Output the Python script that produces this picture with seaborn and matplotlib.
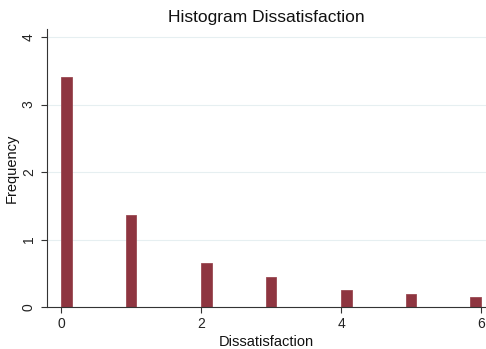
import numpy as np
import pandas as pd
import matplotlib
matplotlib.use("Agg")
import matplotlib.pyplot as plt
import seaborn as sns

values = [0, 1, 2, 3, 4, 5, 6]
density = [3.41, 1.37, 0.655, 0.445, 0.245, 0.200, 0.143]
x_ticks = [0, 2, 4, 6]
y_ticks = [0, 1, 2, 3, 4]
n_bins = 39

df = pd.DataFrame({"Dissatisfaction": values, "density": density})

sns.set_theme(style="white")
plt.rcParams["font.family"] = ["Liberation Sans", "DejaVu Sans"]

fig = plt.figure(figsize=(4.86, 3.49), dpi=100)
ax = fig.add_axes([0.0967, 0.1203, 0.9033, 0.7965])

sns.histplot(data=df, x="Dissatisfaction", weights="density", bins=n_bins,
             binrange=(0, 6), stat="count", color="#8e3540",
             edgecolor="#9a4a52", linewidth=0.6, alpha=1.0, ax=ax)

ax.set_xlim(-0.2, 6.07)
ax.set_ylim(0, 4.12)
ax.set_xticks(x_ticks)
ax.set_yticks(y_ticks)
ax.set_yticklabels([str(t) for t in y_ticks], rotation=90, va="center")
ax.yaxis.grid(True, color="#e6eff1", linewidth=0.8)
ax.set_axisbelow(True)
for s in ["top", "right"]:
    ax.spines[s].set_visible(False)
for s in ["left", "bottom"]:
    ax.spines[s].set_color("#333333")
    ax.spines[s].set_linewidth(0.8)
ax.tick_params(axis="both", which="major", length=4, width=0.8, color="#333333",
               labelsize=10, labelcolor="#222222", left=True, bottom=True, pad=3)
ax.tick_params(axis="y", pad=4)
ax.set_xlabel("Dissatisfaction", fontsize=10.5, color="#111111", labelpad=3)
ax.set_ylabel("Frequency", fontsize=10.5, color="#111111", labelpad=2)
ax.set_title("Histogram Dissatisfaction", fontsize=12.5, color="#111111", pad=5)

fig.savefig("out.png", dpi=100)
